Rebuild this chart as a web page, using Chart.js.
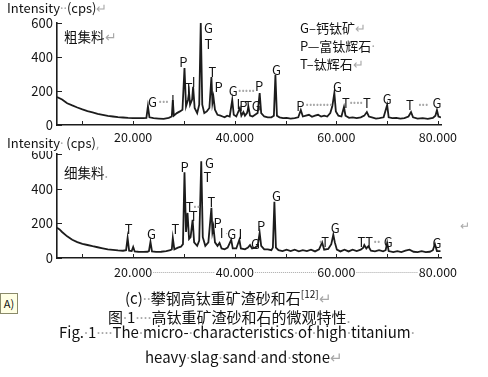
<!DOCTYPE html>
<html>
<head>
<meta charset="utf-8">
<script src="https://cdn.jsdelivr.net/npm/chart.js@4/dist/chart.umd.min.js"></script>
<style>
  body { margin: 0; width: 488px; height: 377px; overflow: hidden; position: relative; background: #fff;
         font-family: "Noto Sans CJK SC", "Noto Sans", sans-serif; color: #111; }
  .abs { position: absolute; white-space: nowrap; }
  .g { color: #a8a8a8; font-family: "Noto Sans", sans-serif; }
  canvas { position: absolute; left: 0; }
  sup { font-size: 10px; vertical-align: 6px; line-height: 0; }
</style>
</head>
<body>
<canvas id="xrdCoarse" width="488" height="150" style="top:0"></canvas>
<canvas id="xrdFine" width="488" height="150" style="top:140px"></canvas>

<div class="abs" style="left:7px;top:0;font-size:13px;line-height:16px">Intensity<span class="g">··</span>(cps)<span class="g">↵</span></div>
<div class="abs" style="left:64px;top:27px;font-size:13.5px;line-height:18px">粗集料<span class="g">↵</span></div>
<div class="abs" style="left:300px;top:19px;font-size:13px;line-height:17px">G–钙钛矿<span class="g">↵</span><br>P—富钛辉石<span class="g">·</span><br>T–钛辉石<span class="g">↵</span></div>

<div class="abs" style="left:7px;top:135px;font-size:13px;line-height:15px;background:#fff;padding-right:2px">Intensity<span class="g">·</span> (cps)<span class="g">,</span></div>
<div class="abs" style="left:64px;top:163px;font-size:13.5px;line-height:18px">细集料<span class="g">.</span></div>
<div class="abs g" style="left:460px;top:217px;font-size:12px">↵</div>

<div class="abs" style="left:0;top:293px;width:16px;height:19px;background:#ffffe4;border:1px solid #8a8a6a;font-size:11px;line-height:19px;text-align:center">A)</div>
<div class="abs" style="left:125px;top:289px;font-size:15px;line-height:18px">(c)<span class="g">··</span>攀钢高钛重矿渣砂和石<sup>[12]</sup><span class="g">↵</span></div>
<div class="abs" style="left:108px;top:308px;font-size:15px;line-height:18px">图<span class="g">·</span>1<span class="g">····</span>高钛重矿渣砂和石的微观特性<span class="g">.</span></div>
<div class="abs" style="left:59px;top:323px;font-size:15px;line-height:18px">Fig.<span class="g">·</span>1<span class="g">····</span>The<span class="g">·</span>micro-<span class="g">·</span>characteristics<span class="g">·</span>of<span class="g">·</span>high<span class="g">·</span>titanium<span class="g">·</span></div>
<div class="abs" style="left:145px;top:348px;font-size:15px;line-height:18px">heavy<span class="g">·</span>slag<span class="g">·</span>sand<span class="g">·</span>and<span class="g">·</span>stone<span class="g">↵</span></div>

<script>
// 2θ (degrees) vs intensity (cps)
const COARSE_PATTERN = [
  [5,165],[6,150],[7,128],[8,115],[9,103],[10,92],[11,82],[12,74],[13,66],[14,60],[15,54],[16,50],
  [17,46],[18,44],[19,42],[20,41],[21,40],[22,40],[22.6,42],[22.9,110],[23.2,45],[24,40],[25,38],
  [26,36],[27,42],[27.6,50],[27.8,147],[28.0,55],[28.6,70],[29.2,80],[29.7,90],[30.1,335],[30.4,110],
  [30.8,150],[31.0,190],[31.2,120],[31.6,150],[31.8,225],[32.1,100],[32.6,70],[33.0,120],[33.3,600],
  [33.6,120],[34.0,70],[34.5,80],[35.0,100],[35.4,282],[35.6,130],[35.8,165],[36.1,90],[36.6,60],
  [37.2,55],[37.6,50],[38,45],[38.5,55],[39.0,50],[39.5,147],[39.8,60],[40.3,50],[41.0,100],[41.3,55],
  [41.7,76],[42.0,55],[42.4,70],[42.7,105],[43.0,55],[43.5,50],[44.0,60],[44.5,70],[44.9,188],[45.2,70],
  [45.8,50],[46.5,45],[47.2,45],[47.7,55],[48.0,294],[48.3,55],[48.8,45],[49.5,40],[50.2,42],[51,38],
  [51.8,40],[52.5,45],[53.0,88],[53.4,50],[54,55],[54.6,60],[55.2,48],[55.8,55],[56.4,60],[57,50],
  [57.6,55],[58.2,50],[58.8,70],[59.2,110],[59.6,188],[59.9,80],[60.4,55],[61.0,50],[61.5,106],[61.8,55],
  [62.5,42],[63.2,45],[64,40],[64.8,45],[65.5,55],[66.0,76],[66.4,50],[67,45],[67.8,38],[68.5,40],
  [69.3,45],[70.0,118],[70.3,45],[71,40],[71.8,42],[72.6,38],[73.4,40],[74.2,50],[74.7,76],[75.1,45],
  [76,38],[77,40],[78,36],[79,42],[79.5,55],[79.8,88],[80.1,50],[80.6,45]
];
const FINE_PATTERN = [
  [5,175],[5.5,165],[6,150],[7,125],[8,105],[9,92],[10,82],[11,75],[12,68],[13,62],[14,56],[15,50],
  [16,47],[17,44],[18,42],[18.6,45],[18.9,116],[19.2,42],[19.7,40],[20.0,64],[20.3,38],[21,36],[22,35],
  [22.8,36],[23.1,40],[23.4,93],[23.7,38],[24.5,35],[25.5,36],[26.5,40],[27.3,45],[27.6,50],[27.8,116],
  [28.1,50],[28.8,60],[29.4,65],[29.8,80],[30.1,494],[30.4,150],[30.7,260],[31.0,110],[31.3,120],
  [31.7,220],[32.0,90],[32.6,70],[33.0,100],[33.4,558],[33.7,120],[34.2,70],[34.8,90],[35.4,290],
  [35.6,150],[35.8,180],[36.1,90],[36.6,70],[37.0,87],[37.4,55],[38.0,50],[38.6,60],[39.3,105],[39.6,55],
  [40.3,55],[40.9,105],[41.2,55],[42,50],[42.6,60],[43.0,75],[43.4,55],[44.0,60],[44.5,70],[44.9,145],
  [45.2,70],[45.8,50],[46.5,50],[47.2,45],[47.5,60],[47.8,325],[48.1,60],[48.6,45],[49.4,40],[50.2,48],
  [51,40],[51.8,48],[52.6,38],[53.4,45],[54.2,40],[55,48],[55.8,38],[56.6,50],[57.2,90],[57.6,48],
  [58.4,52],[59.0,80],[59.4,134],[59.7,90],[60.1,48],[60.8,38],[61.6,48],[62.4,38],[63.2,48],[64,40],
  [64.8,48],[65.3,60],[65.5,75],[65.9,55],[66.3,68],[66.8,42],[67.6,38],[68.4,45],[69.2,38],[69.7,45],
  [70.0,87],[70.3,40],[71.2,34],[72,40],[72.8,34],[73.6,42],[74.4,48],[75.2,36],[76,34],[76.8,40],
  [77.6,34],[78.4,36],[79.0,45],[79.4,81],[79.8,40],[80.5,40]
];

// phase marks: [text, 2θ, intensity]
const COARSE_PEAK_LABELS = [
  ["G",23.8,135],["•••",26.0,135],["I",27.8,147],["P",29.9,371],["T",30.9,218],["I",31.9,253],
  ["G",34.8,571],["T",34.8,476],["T",35.6,312],["P",36.8,224],["G",39.7,200],["•••••",42.3,200],
  ["P",44.8,229],["I",40.7,124],["P",41.7,112],["TG",43.5,112],["G",48.2,324],["P",52.9,112],
  ["••••••••",56.6,118],["G",60.2,224],["T",61.9,129],["••••",63.9,129],["T",66.0,129],["G",70.0,153],
  ["T",74.5,118],["•••",77.1,118],["G",79.8,129]
];
const FINE_PEAK_LABELS = [
  ["T",19.1,167],["G",23.6,138],["T",28.3,167],["P",30.1,525],["G",35.0,548],["T",34.6,467],
  ["T",31.1,294],["••",32.5,294],["T",31.9,242],["T",35.4,323],["P",36.6,202],["I",37.4,144],
  ["·",38.4,138],["G",39.4,138],["I",41.1,138],["G",44.1,81],["P",45.2,185],["G",48.2,358],
  ["•",56.9,92],["T",57.8,92],["G",59.8,173],["TT",65.7,92],["••",68.0,92],["G",70.2,92],["G",79.8,87]
];

const X_TICKS = [10, 20, 30, 40, 50, 60, 70, 80];
const Y_TICKS = [0, 100, 200, 300, 400, 500, 600];

const FONT = '"Noto Sans CJK SC", "Noto Sans", sans-serif';

const peakLabels = {
  id: "peakLabels",
  afterDatasetsDraw(chart, args, opts) {
    const { ctx, scales: { x, y } } = chart;
    ctx.save();
    ctx.textAlign = "center";
    ctx.textBaseline = "middle";
    opts.items.forEach(([text, tx, ty]) => {
      const leader = /^[•·]+$/.test(text);
      ctx.fillStyle = leader ? "#a8a8a8" : "#151515";
      ctx.font = leader ? '9px "Noto Sans", sans-serif' : "13px " + FONT;
      ctx.fillText(text, x.getPixelForValue(tx), y.getPixelForValue(ty));
    });
    // inner tick marks
    const area = chart.chartArea;
    ctx.strokeStyle = "#222";
    ctx.lineWidth = 1;
    ctx.beginPath();
    x.ticks.forEach((t) => {
      const px = Math.round(x.getPixelForValue(t.value)) + 0.5;
      ctx.moveTo(px, area.bottom);
      ctx.lineTo(px, area.bottom - 4);
    });
    y.ticks.forEach((t) => {
      const py = Math.round(y.getPixelForValue(t.value)) + 0.5;
      ctx.moveTo(area.left, py);
      ctx.lineTo(area.left + 5, py);
    });
    ctx.stroke();
    // dotted leaders between x labels
    if (opts.axisLeaders) {
      ctx.font = "12.5px " + FONT;
      const labelled = x.ticks.filter((t) => t.value % 20 === 0);
      const ly = area.bottom + 14;
      ctx.strokeStyle = "#a8a8a8";
      ctx.setLineDash([1, 1]);
      ctx.beginPath();
      for (let i = 0; i < labelled.length - 1; i++) {
        const a = x.getPixelForValue(labelled[i].value) + ctx.measureText(labelled[i].label).width / 2 + 1;
        const b = x.getPixelForValue(labelled[i + 1].value) - ctx.measureText(labelled[i + 1].label).width / 2 - 1;
        ctx.moveTo(a, ly + 0.5);
        ctx.lineTo(b, ly + 0.5);
      }
      ctx.stroke();
    }
    ctx.restore();
  },
};

function createXrdChart(canvasId, pattern, labels, top, xAxisHeight, axisLeaders) {
  const ctx = document.getElementById(canvasId).getContext("2d");
  return new Chart(ctx, {
    type: "line",
    data: {
      datasets: [
        {
          data: pattern.map(([t, c]) => ({ x: t, y: c })),
          borderColor: "#1c1c1c",
          borderWidth: 1.8,
          pointRadius: 0,
          tension: 0,
        },
      ],
    },
    options: {
      responsive: false,
      animation: false,
      events: [],
      layout: { padding: { top: top, left: 0, right: 47, bottom: 0 } },
      scales: {
        x: {
          type: "linear",
          min: 5,
          max: 80.6,
          afterBuildTicks: (scale) => { scale.ticks = X_TICKS.map((v) => ({ value: v })); },
          afterFit: (scale) => { scale.height = xAxisHeight; },
          ticks: {
            autoSkip: false,
            maxRotation: 0,
            padding: axisLeaders ? 7 : 5,
            color: "#151515",
            font: { family: FONT, size: 12.5 },
            callback: (v) => (v % 20 === 0 ? v.toFixed(3) : ""),
          },
          grid: { display: false, drawTicks: false },
          border: { display: true, color: "#1c1c1c", width: 1.6 },
        },
        y: {
          min: 0,
          max: 600,
          afterBuildTicks: (scale) => { scale.ticks = Y_TICKS.map((v) => ({ value: v })); },
          afterFit: (scale) => { scale.width = 57; },
          ticks: {
            padding: 4,
            color: "#151515",
            font: { family: FONT, size: 13 },
            callback: (v) => (v % 200 === 0 ? String(v) : ""),
          },
          grid: { display: false, drawTicks: false },
          border: { display: true, color: "#1c1c1c", width: 1.6 },
        },
      },
      plugins: {
        legend: { display: false },
        tooltip: { enabled: false },
        peakLabels: { items: labels, axisLeaders: axisLeaders },
      },
    },
    plugins: [peakLabels],
  });
}

createXrdChart("xrdCoarse", COARSE_PATTERN, COARSE_PEAK_LABELS, 23, 25, false);
createXrdChart("xrdFine", FINE_PATTERN, FINE_PEAK_LABELS, 14, 32, true);
</script>
</body>
</html>
